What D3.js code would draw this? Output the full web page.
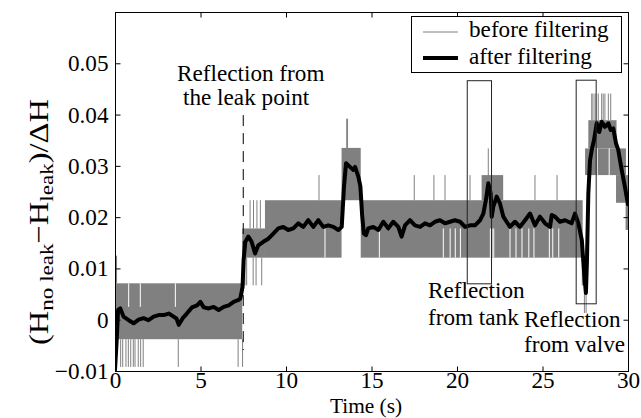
<!DOCTYPE html>
<html>
<head>
<meta charset="utf-8">
<script src="https://cdn.jsdelivr.net/npm/d3@7/dist/d3.min.js"></script>
<style>
  html, body { margin: 0; padding: 0; background: #fff; }
  svg { display: block; }
</style>
</head>
<body>
<script>
// ---------- DATA ----------
const xTicks = [0, 5, 10, 15, 20, 25, 30];
const yTicks = [-0.01, 0, 0.01, 0.02, 0.03, 0.04, 0.05];
const yTickLabels = ["\u22120.01", "0", "0.01", "0.02", "0.03", "0.04", "0.05"];

// after filtering (thick black line)
const filtT = [0, 0.1, 0.18, 0.31, 0.5, 0.8, 1.09, 1.38, 1.67, 1.96, 2.26, 2.55, 2.84, 3.14, 3.43, 3.6, 3.73, 3.96, 4.2, 4.5, 4.8, 4.99, 5.19, 5.48, 5.77, 6.06, 6.36, 6.65, 6.94, 7.19, 7.33, 7.46, 7.52, 7.62, 7.8, 7.99, 8.19, 8.38, 8.67, 8.97, 9.26, 9.55, 9.84, 10.13, 10.43, 10.72, 11.01, 11.3, 11.6, 11.89, 12.18, 12.47, 12.77, 13.06, 13.26, 13.39, 13.51, 13.74, 13.94, 14.04, 14.23, 14.35, 14.45, 14.55, 14.68, 14.81, 15.1, 15.4, 15.69, 15.98, 16.27, 16.57, 16.76, 16.96, 17.25, 17.54, 17.84, 18.13, 18.42, 18.71, 19.0, 19.3, 19.59, 19.88, 20.18, 20.47, 20.76, 21.05, 21.35, 21.54, 21.7, 21.83, 21.97, 22.03, 22.12, 22.32, 22.51, 22.71, 22.9, 23.1, 23.39, 23.68, 23.98, 24.27, 24.56, 24.85, 25.15, 25.44, 25.54, 25.73, 26.02, 26.32, 26.7, 26.9, 27.1, 27.3, 27.45, 27.54, 27.6, 27.68, 27.78, 27.88, 28.01, 28.17, 28.32, 28.46, 28.65, 28.85, 28.99, 29.14, 29.3, 29.43, 29.63, 29.82, 30];
const filtV = [-0.0098, -0.004, 0.0019, 0.0022, 0.0006, -0.0001, -0.0007, 0, 0.0003, -0.0001, 0.0006, 0.0009, 0.0009, 0.0012, 0.0006, 0.0002, -0.001, 0.0003, 0.0012, 0.0024, 0.0028, 0.0035, 0.0024, 0.0022, 0.0025, 0.0019, 0.0025, 0.0028, 0.0035, 0.0038, 0.0041, 0.0064, 0.0116, 0.0152, 0.0162, 0.0152, 0.0129, 0.0145, 0.0152, 0.0158, 0.0168, 0.0178, 0.0181, 0.0175, 0.0178, 0.0188, 0.0181, 0.0194, 0.0181, 0.0194, 0.0181, 0.0184, 0.0181, 0.0175, 0.0181, 0.0259, 0.0305, 0.0298, 0.0292, 0.0298, 0.0279, 0.026, 0.0205, 0.0168, 0.0165, 0.0178, 0.0181, 0.0175, 0.0191, 0.0178, 0.0191, 0.0181, 0.0162, 0.0184, 0.0194, 0.0184, 0.0181, 0.0188, 0.0184, 0.0191, 0.0194, 0.0188, 0.0191, 0.0194, 0.0191, 0.0181, 0.0184, 0.0184, 0.0194, 0.0207, 0.0235, 0.0266, 0.0246, 0.0201, 0.022, 0.024, 0.0227, 0.0201, 0.0191, 0.0181, 0.0191, 0.0181, 0.0194, 0.0207, 0.0184, 0.0201, 0.0188, 0.0181, 0.0204, 0.0201, 0.0191, 0.0194, 0.0188, 0.0207, 0.0188, 0.0155, 0.0084, 0.0052, 0.0116, 0.0246, 0.0311, 0.0331, 0.035, 0.0383, 0.0366, 0.0386, 0.0376, 0.0383, 0.037, 0.0373, 0.0344, 0.0331, 0.0292, 0.0259, 0.0225];

// before filtering (quantised raw signal, drawn as dense bands + isolated excursions)
const bandStart = [0, 0, 7.44, 8.77, 13.25, 14.37, 21.44, 27.3, 27.49, 27.68, 29.3, 29.86];
const bandEnd   = [7.44, 0.12, 8.77, 13.25, 14.37, 27.35, 22.7, 27.46, 29.88, 29.33, 30, 30];
const bandLow   = [-0.0038, 0.0071, 0.0121, 0.0121, 0.0233, 0.0121, 0.0233, 0.0067, 0.0282, 0.0334, 0.0228, 0.0175];
const bandHigh  = [0.0071, 0.0125, 0.0178, 0.0233, 0.0335, 0.0233, 0.0282, 0.0121, 0.0334, 0.0389, 0.0282, 0.0228];

const spikeT    = [0.33, 0.45, 0.64, 0.78, 0.92, 1.07, 1.17, 1.36, 1.5, 1.65, 3.7, 7.2, 7.46, 7.5, 7.6, 7.7, 8.08, 8.25, 8.58, 7.9, 8.1, 8.3, 8.5, 11.93, 13.55, 13.6, 17.5, 18.65, 19.3, 20.76, 21.83, 24.56, 25.85, 27.45, 27.55, 27.88, 27.95, 28.07, 28.26, 28.46, 28.55, 28.65, 28.85, 28.99];
const spikeFrom = [-0.0038, -0.0038, -0.0038, -0.0038, -0.0038, -0.0038, -0.0038, -0.0038, -0.0038, -0.0038, -0.0038, -0.0038, -0.0038, 0.0121, 0.0121, 0.0121, 0.0121, 0.0121, 0.0121, 0.0178, 0.0178, 0.0178, 0.0178, 0.0233, 0.0335, 0.0335, 0.0233, 0.0233, 0.0233, 0.0233, 0.0233, 0.0233, 0.0233, 0.0067, 0.0067, 0.0389, 0.0389, 0.0389, 0.0389, 0.0389, 0.0389, 0.0389, 0.0389, 0.0389];
const spikeTo   = [-0.0092, -0.0092, -0.0092, -0.0092, -0.0092, -0.0092, -0.0092, -0.0092, -0.0092, -0.0092, -0.0092, -0.0092, -0.0092, 0.0067, 0.0067, 0.0067, 0.0067, 0.0067, 0.0067, 0.0233, 0.0233, 0.0233, 0.0233, 0.0282, 0.0392, 0.0392, 0.0282, 0.0282, 0.0282, 0.0282, 0.0334, 0.0282, 0.0282, 0.0013, 0.0013, 0.0441, 0.0441, 0.0441, 0.0441, 0.0441, 0.0441, 0.0441, 0.0441, 0.0441];

// short spells where the raw signal stayed on one level (white gaps in the bands)
const gapT    = [0.8, 1.48, 3.53, 12.28, 15.46, 19.2, 19.6, 19.9, 20.2, 21.95, 22.05, 22.15, 23.1, 23.45, 23.8, 24.2, 24.5, 25.4, 25.6, 25.95, 28.2, 28.9];
const gapFrom = [0.0071, 0.0071, 0.0071, 0.0121, 0.0121, 0.0121, 0.0121, 0.0121, 0.0121, 0.0121, 0.0121, 0.0121, 0.0121, 0.0121, 0.0121, 0.0121, 0.0121, 0.0121, 0.0121, 0.0121, 0.0282, 0.0282];
const gapTo   = [0.0025, 0.0025, 0.0025, 0.0178, 0.0178, 0.0178, 0.0178, 0.0178, 0.0178, 0.0178, 0.0178, 0.0178, 0.0178, 0.0178, 0.0178, 0.0178, 0.0178, 0.0178, 0.0178, 0.0178, 0.0334, 0.0334];

// annotation boxes [t0, t1, v0, v1]
const boxT0 = [20.57, 26.94];
const boxT1 = [21.99, 28.11];
const boxV0 = [0.0071, 0.0032];
const boxV1 = [0.0467, 0.0468];

const leakT = 7.5, leakV0 = -0.0059, leakV1 = 0.0399;

const seriesNames = ["before filtering", "after filtering"];

// ---------- FONT PICKING (serif, Times-like if available) ----------
function fontExists(name) {
  const c = document.createElement("canvas").getContext("2d");
  const s = "Reflection from the leak point 0.05 mmmWWiil";
  const res = [];
  for (const fb of ["monospace", "sans-serif"]) {
    c.font = `40px ${fb}`; const w0 = c.measureText(s).width;
    c.font = `40px "${name}", ${fb}`; const w1 = c.measureText(s).width;
    res.push(Math.abs(w1 - w0) > 0.5);
  }
  return res[0] && res[1];
}
const candidates = ["Liberation Serif", "Tinos", "Times New Roman", "Times", "Nimbus Roman", "Nimbus Roman No9 L", "Noto Serif", "DejaVu Serif", "FreeSerif"];
let FAMILY = "serif";
for (const c of candidates) { if (fontExists(c)) { FAMILY = `"${c}", serif`; break; } }
// scale font so "Reflection from" spans ~147px as in the reference
const mctx = document.createElement("canvas").getContext("2d");
mctx.font = `100px ${FAMILY}`;
let FS = 100 * 147.5 / mctx.measureText("Reflection from").width;
FS = Math.max(17, Math.min(24, FS));

// vertical metrics for the bottom labels (keep them apart and inside the picture)
const FS_T = FS * 0.92;
mctx.font = `${FS_T}px ${FAMILY}`;
const mT = mctx.measureText("Time (s)");
const tAsc = mT.fontBoundingBoxAscent || FS_T * 0.93;
const tDesc = mT.fontBoundingBoxDescent || FS_T * 0.24;
const timeBase = 417.5 - tDesc;
mctx.font = `${FS}px ${FAMILY}`;
const mD = mctx.measureText("15");
const dDesc = mD.fontBoundingBoxDescent || FS * 0.24;
const tickBase = Math.min(396, timeBase - tAsc - dDesc - 1);

// ---------- LAYOUT ----------
const W = 641, H = 418;
const M = { left: 115, right: 628, top: 12, bottom: 371 };

const x = d3.scaleLinear().domain([0, 30]).range([M.left, M.right]);
const y = d3.scaleLinear().domain([-0.01, 0.06]).range([M.bottom, M.top]);

const svg = d3.select("body").append("svg").attr("width", W).attr("height", H)
  .style("font-family", FAMILY);

svg.append("defs").append("clipPath").attr("id", "clip")
  .append("rect").attr("x", M.left).attr("y", M.top)
  .attr("width", M.right - M.left).attr("height", M.bottom - M.top);

const plot = svg.append("g").attr("clip-path", "url(#clip)");
const GRAY = "#808080";

// bands
plot.selectAll("rect.band").data(d3.range(bandStart.length)).join("rect")
  .attr("class", "band")
  .attr("x", i => x(bandStart[i]))
  .attr("width", i => x(bandEnd[i]) - x(bandStart[i]))
  .attr("y", i => y(bandHigh[i]))
  .attr("height", i => y(bandLow[i]) - y(bandHigh[i]))
  .attr("fill", GRAY);

// white gaps
plot.selectAll("line.gap").data(d3.range(gapT.length)).join("line")
  .attr("x1", i => x(gapT[i])).attr("x2", i => x(gapT[i]))
  .attr("y1", i => y(gapFrom[i])).attr("y2", i => y(gapTo[i]))
  .attr("stroke", "#fff").attr("stroke-width", 1);

// spikes
plot.selectAll("line.spike").data(d3.range(spikeT.length)).join("line")
  .attr("x1", i => x(spikeT[i])).attr("x2", i => x(spikeT[i]))
  .attr("y1", i => y(spikeFrom[i])).attr("y2", i => y(spikeTo[i]))
  .attr("stroke", GRAY).attr("stroke-width", 1);

// annotation boxes
svg.selectAll("rect.anno").data(d3.range(boxT0.length)).join("rect")
  .attr("x", i => x(boxT0[i]) + 0.5)
  .attr("y", i => y(boxV1[i]) + 0.5)
  .attr("width", i => x(boxT1[i]) - x(boxT0[i]))
  .attr("height", i => y(boxV0[i]) - y(boxV1[i]))
  .attr("fill", "none").attr("stroke", "#222").attr("stroke-width", 1);

// dashed leak line
svg.append("line")
  .attr("x1", x(leakT)).attr("x2", x(leakT))
  .attr("y1", y(leakV1)).attr("y2", y(leakV0))
  .attr("stroke", "#000").attr("stroke-width", 1)
  .attr("stroke-dasharray", "11,7");

// filtered line
const line = d3.line().x(i => x(filtT[i])).y(i => y(filtV[i])).curve(d3.curveLinear);
plot.append("path").datum(d3.range(filtT.length))
  .attr("d", line).attr("fill", "none")
  .attr("stroke", "#000").attr("stroke-width", 4)
  .attr("stroke-linejoin", "round").attr("stroke-linecap", "round");

// axes frame
svg.append("rect").attr("x", M.left + 0.5).attr("y", M.top + 0.5)
  .attr("width", M.right - M.left).attr("height", M.bottom - M.top)
  .attr("fill", "none").attr("stroke", "#000").attr("stroke-width", 1);

const axB = d3.axisBottom(x).tickValues(xTicks).tickSize(-5).tickFormat(d3.format("d"));
const axT = d3.axisTop(x).tickValues(xTicks).tickSize(-5).tickFormat("");
const axL = d3.axisLeft(y).tickValues(yTicks).tickSize(-5).tickPadding(7).tickFormat((d, i) => yTickLabels[i]);
const axR = d3.axisRight(y).tickValues(yTicks).tickSize(-5).tickFormat("");

function styleAxis(g) {
  g.attr("font-family", null).attr("font-size", null);
  g.select(".domain").remove();
  g.selectAll(".tick line").attr("stroke", "#000");
  g.selectAll("text").attr("font-size", FS).attr("fill", "#000");
}
svg.append("g").attr("transform", `translate(0,${M.bottom + 0.5})`).call(axB).call(styleAxis)
  .selectAll(".tick text").attr("y", tickBase - (M.bottom + 0.5)).attr("dy", null);
svg.append("g").attr("transform", `translate(0,${M.top + 0.5})`).call(axT).call(styleAxis);
svg.append("g").attr("transform", `translate(${M.left + 0.5},0)`).call(axL).call(styleAxis);
svg.append("g").attr("transform", `translate(${M.right + 0.5},0)`).call(axR).call(styleAxis);

// axis labels
svg.append("text").attr("x", 366).attr("y", timeBase).attr("text-anchor", "middle")
  .attr("font-size", FS_T).text("Time (s)");

const yl = svg.append("text").attr("transform", "translate(48,222) rotate(-90)")
  .attr("text-anchor", "middle").attr("font-size", FS * 1.2)
  .attr("textLength", 246).attr("lengthAdjust", "spacingAndGlyphs");
yl.append("tspan").text("(H");
yl.append("tspan").attr("font-size", FS * 0.85).attr("dy", 5).text("no leak");
yl.append("tspan").attr("dy", -5).text("\u2212H");
yl.append("tspan").attr("font-size", FS * 0.85).attr("dy", 5).text("leak");
yl.append("tspan").attr("dy", -5).text(")/\u0394H");

// annotations text
const ann = [
  ["Reflection from", 177, 81],
  ["the leak point", 183, 105],
  ["Reflection", 428, 298],
  ["from tank", 428, 325],
  ["Reflection", 524, 327],
  ["from valve", 524, 352]
];
svg.selectAll("text.ann").data(ann).join("text").attr("class", "ann")
  .attr("x", d => d[1]).attr("y", d => d[2]).attr("font-size", FS).text(d => d[0]);

// legend
const lg = svg.append("g");
lg.append("rect").attr("x", 411.5).attr("y", 16.5).attr("width", 210).attr("height", 56)
  .attr("fill", "#fff").attr("stroke", "#000").attr("stroke-width", 1);
lg.append("line").attr("x1", 423).attr("x2", 458).attr("y1", 32).attr("y2", 32)
  .attr("stroke", GRAY).attr("stroke-width", 1);
lg.append("line").attr("x1", 423).attr("x2", 458).attr("y1", 58).attr("y2", 58)
  .attr("stroke", "#000").attr("stroke-width", 4);
lg.append("text").attr("x", 469).attr("y", 37).attr("font-size", FS).text(seriesNames[0]);
lg.append("text").attr("x", 469).attr("y", 64).attr("font-size", FS).text(seriesNames[1]);
</script>
</body>
</html>
